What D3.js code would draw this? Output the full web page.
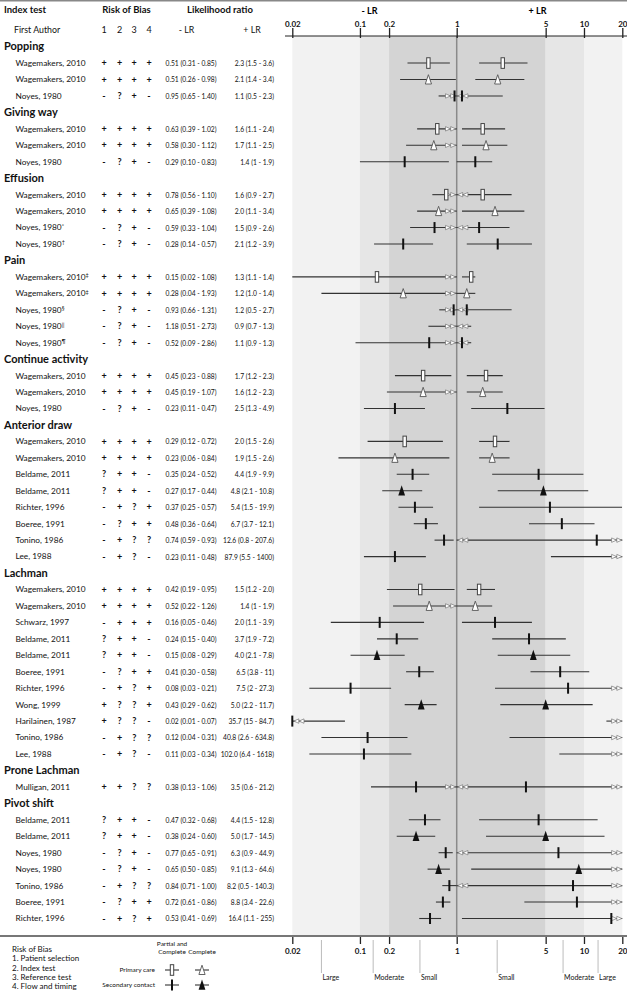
<!DOCTYPE html>
<html><head><meta charset="utf-8">
<script src="https://cdn.jsdelivr.net/npm/d3@7"></script>
<style>
body{margin:0;background:#fff;}
svg{display:block;font-family:Lato,"Open Sans",sans-serif;}
</style></head><body>
<svg id="c" width="627" height="993"></svg>
<script>
// ---------------- DATA ----------------
const groups = ["Popping","Giving way","Effusion","Pain","Continue activity","Anterior draw","Lachman","Prone Lachman","Pivot shift"];
const groupSizes = [3,3,4,5,3,8,11,1,7];
const studies = [
 "Wagemakers, 2010","Wagemakers, 2010","Noyes, 1980",
 "Wagemakers, 2010","Wagemakers, 2010","Noyes, 1980",
 "Wagemakers, 2010","Wagemakers, 2010","Noyes, 1980","Noyes, 1980",
 "Wagemakers, 2010","Wagemakers, 2010","Noyes, 1980","Noyes, 1980","Noyes, 1980",
 "Wagemakers, 2010","Wagemakers, 2010","Noyes, 1980",
 "Wagemakers, 2010","Wagemakers, 2010","Beldame, 2011","Beldame, 2011","Richter, 1996","Boeree, 1991","Tonino, 1986","Lee, 1988",
 "Wagemakers, 2010","Wagemakers, 2010","Schwarz, 1997","Beldame, 2011","Beldame, 2011","Boeree, 1991","Richter, 1996","Wong, 1999","Harilainen, 1987","Tonino, 1986","Lee, 1988",
 "Mulligan, 2011",
 "Beldame, 2011","Beldame, 2011","Noyes, 1980","Noyes, 1980","Tonino, 1986","Boeree, 1991","Richter, 1996"];
const footnotes = ["","","", "","","", "","","*","\u2020", "\u2021","\u2021","\u00a7","||","\u00b6", "","","",
 "","","","","","","","", "","","","","","","","","","","", "", "","","","","","",""];
const riskOfBias = [
 "++++","++++","-?+-", "++++","++++","-?+-", "++++","++++","-?+-","-?+-",
 "++++","++++","-?+-","-?+-","-?+-", "++++","++++","-?+-",
 "++++","++++","?++-","?++-","-+?+","-?++","-+??","-+?-",
 "++++","++++","-+++","?++-","?++-","-?++","-+?+","+??+","+??-","-+??","-+?-",
 "++??",
 "?++-","?++-","-?+-","-?+-","-+??","-?++","-+?+"];
// marker: rect = primary care partial&complete, otri = primary care complete,
// tick = secondary contact partial&complete, ftri = secondary contact complete
const markers = [
 "rect","otri","tick", "rect","otri","tick", "rect","otri","tick","tick",
 "rect","otri","tick","tick","tick", "rect","otri","tick",
 "rect","otri","tick","ftri","tick","tick","tick","tick",
 "rect","otri","tick","tick","ftri","tick","tick","ftri","tick","tick","tick",
 "tick",
 "tick","ftri","tick","ftri","tick","tick","tick"];
const negativeLR = [
 ["0.51","0.31","0.85"],["0.51","0.26","0.98"],["0.95","0.65","1.40"],
 ["0.63","0.39","1.02"],["0.58","0.30","1.12"],["0.29","0.10","0.83"],
 ["0.78","0.56","1.10"],["0.65","0.39","1.08"],["0.59","0.33","1.04"],["0.28","0.14","0.57"],
 ["0.15","0.02","1.08"],["0.28","0.04","1.93"],["0.93","0.66","1.31"],["1.18","0.51","2.73"],["0.52","0.09","2.86"],
 ["0.45","0.23","0.88"],["0.45","0.19","1.07"],["0.23","0.11","0.47"],
 ["0.29","0.12","0.72"],["0.23","0.06","0.84"],["0.35","0.24","0.52"],["0.27","0.17","0.44"],["0.37","0.25","0.57"],["0.48","0.36","0.64"],["0.74","0.59","0.93"],["0.23","0.11","0.48"],
 ["0.42","0.19","0.95"],["0.52","0.22","1.26"],["0.16","0.05","0.46"],["0.24","0.15","0.40"],["0.15","0.08","0.29"],["0.41","0.30","0.58"],["0.08","0.03","0.21"],["0.43","0.29","0.62"],["0.02","0.01","0.07"],["0.12","0.04","0.31"],["0.11","0.03","0.34"],
 ["0.38","0.13","1.06"],
 ["0.47","0.32","0.68"],["0.38","0.24","0.60"],["0.77","0.65","0.91"],["0.65","0.50","0.85"],["0.84","0.71","1.00"],["0.72","0.61","0.86"],["0.53","0.41","0.69"]];
const positiveLR = [
 ["2.3","1.5","3.6"],["2.1","1.4","3.4"],["1.1","0.5","2.3"],
 ["1.6","1.1","2.4"],["1.7","1.1","2.5"],["1.4","1","1.9"],
 ["1.6","0.9","2.7"],["2.0","1.1","3.4"],["1.5","0.9","2.6"],["2.1","1.2","3.9"],
 ["1.3","1.1","1.4"],["1.2","1.0","1.4"],["1.2","0.5","2.7"],["0.9","0.7","1.3"],["1.1","0.9","1.3"],
 ["1.7","1.2","2.3"],["1.6","1.2","2.3"],["2.5","1.3","4.9"],
 ["2.0","1.5","2.6"],["1.9","1.5","2.6"],["4.4","1.9","9.9"],["4.8","2.1","10.8"],["5.4","1.5","19.9"],["6.7","3.7","12.1"],["12.6","0.8","207.6"],["87.9","5.5","1400"],
 ["1.5","1.2","2.0"],["1.4","1","1.9"],["2.0","1.1","3.9"],["3.7","1.9","7.2"],["4.0","2.1","7.8"],["6.5","3.8","11"],["7.5","2","27.3"],["5.0","2.2","11.7"],["35.7","15","84.7"],["40.8","2.6","634.8"],["102.0","6.4","1618"],
 ["3.5","0.6","21.2"],
 ["4.4","1.5","12.8"],["5.0","1.7","14.5"],["6.3","0.9","44.9"],["9.1","1.3","64.6"],["8.2","0.5","140.3"],["8.8","3.4","22.6"],["16.4","1.1","255"]];
const negTicks = [0.02,0.1,0.2,1];
const posTicks = [5,10,20];
const negBands = [[0.02,0.1,"#f2f2f2"],[0.1,0.2,"#e6e6e6"],[0.2,1,"#d4d4d4"]];
const posBands = [[1,5,"#d4d4d4"],[5,10,"#e6e6e6"],[10,20,"#f2f2f2"]];
const negEffect = [[0.04,"Large"],[0.137,"Moderate"],[0.417,"Small"]];
const posEffect = [[2.08,"Small"],[6.85,"Moderate"],[12.9,"Large"]];
const robLegend = ["Risk of Bias","1. Patient selection","2. Index test","3. Reference test","4. Flow and timing"];

// ---------------- LAYOUT ----------------
const svg = d3.select("#c");
const xNeg = d3.scaleLog().domain([0.02,1]).range([292.3,456.7]);
const xPos = d3.scaleLog().domain([1,20]).range([456.7,622.3]);
const X1 = xNeg(1);
const yTop = 36, yBot = 936;

const rows = [];
let k = 0;
groups.forEach((g,gi)=>{
  rows.push({kind:"g",name:g});
  for(let j=0;j<groupSizes[gi];j++) rows.push({kind:"s",i:k++});
});
const y = d3.scaleLinear().domain([0,rows.length-1]).range([46.6,918.5]);

// background bands
negBands.forEach(b=>svg.append("rect").attr("x",xNeg(b[0])).attr("width",xNeg(b[1])-xNeg(b[0]))
  .attr("y",yTop).attr("height",yBot-yTop).attr("fill",b[2]));
posBands.forEach(b=>svg.append("rect").attr("x",xPos(b[0])).attr("width",xPos(b[1])-xPos(b[0]))
  .attr("y",yTop).attr("height",yBot-yTop).attr("fill",b[2]));

// top rule
svg.append("line").attr("x1",0).attr("x2",627).attr("y1",0.75).attr("y2",0.75).attr("stroke","#888").attr("stroke-width",1.5);

// reference line at 1
svg.append("line").attr("x1",X1).attr("x2",X1).attr("y1",yTop).attr("y2",yBot).attr("stroke","#8a8a8a").attr("stroke-width",1.5);

// axes
function styleAxis(g){
  g.select(".domain").remove();
  g.selectAll(".tick line").attr("stroke","#222").attr("stroke-width",1.3);
  g.selectAll(".tick text").attr("fill","#111").attr("font-size",8).attr("font-weight","bold").attr("font-family","Lato,sans-serif");
}
const fmt = d=>String(d);
const gTopN = svg.append("g").attr("transform",`translate(0,${yTop})`).call(d3.axisTop(xNeg).tickValues(negTicks).tickFormat(fmt).tickSizeInner(8).tickSizeOuter(0).tickPadding(1));
const gTopP = svg.append("g").attr("transform",`translate(0,${yTop})`).call(d3.axisTop(xPos).tickValues(posTicks).tickFormat(fmt).tickSizeInner(8).tickSizeOuter(0).tickPadding(1));
[gTopN,gTopP].forEach(g=>{styleAxis(g);g.selectAll(".tick line").attr("y2",-8).attr("y1",2);});
svg.append("line").attr("x1",285).attr("x2",627).attr("y1",yTop).attr("y2",yTop).attr("stroke","#222").attr("stroke-width",1);

const gBotN = svg.append("g").attr("transform",`translate(0,${yBot})`).call(d3.axisBottom(xNeg).tickValues(negTicks).tickFormat(fmt).tickSizeInner(8).tickSizeOuter(0).tickPadding(4));
const gBotP = svg.append("g").attr("transform",`translate(0,${yBot})`).call(d3.axisBottom(xPos).tickValues(posTicks).tickFormat(fmt).tickSizeInner(8).tickSizeOuter(0).tickPadding(4));
[gBotN,gBotP].forEach(g=>styleAxis(g));
svg.append("line").attr("x1",0).attr("x2",627).attr("y1",yBot).attr("y2",yBot).attr("stroke","#777").attr("stroke-width",2);

// LR titles
svg.append("text").attr("x",(xNeg(0.02)+X1)/2-5).attr("y",11).attr("dy","0.35em").attr("text-anchor","middle").attr("font-size",9).attr("font-weight","bold").text("- LR");
svg.append("text").attr("x",(X1+xPos(20))/2-2).attr("y",11).attr("dy","0.35em").attr("text-anchor","middle").attr("font-size",9).attr("font-weight","bold").text("+ LR");

// effect size labels
function effect(list, sc){
  list.forEach(e=>{
    const xx = sc(e[0]);
    svg.append("line").attr("x1",xx).attr("x2",xx).attr("y1",940).attr("y2",973).attr("stroke","#aaa").attr("stroke-width",0.8);
    svg.append("text").attr("x",xx+1).attr("y",978).attr("dy","0.35em").attr("font-size",7).attr("fill","#111").text(e[1]);
  });
}
effect(negEffect,xNeg); effect(posEffect,xPos);

// header text
const hdr = (t,x,yy,opt={})=>svg.append("text").attr("x",x).attr("y",yy).attr("dy","0.35em")
  .attr("text-anchor",opt.anchor||"start").attr("font-size",opt.size||9).attr("font-weight",opt.bold?"bold":"normal").attr("fill","#111").text(t);
const robX = [104,119.5,134.2,149];
hdr("Index test",4,10,{bold:true,size:9.5});
hdr("Risk of Bias",126.5,10,{bold:true,size:9.5,anchor:"middle"});
hdr("Likelihood ratio",220,10,{bold:true,size:9.5,anchor:"middle"});
hdr("First Author",14,30,{size:8.8});
robX.forEach((xx,i)=>hdr(String(i+1),xx,30,{size:9,anchor:"middle"}));
hdr("- LR",186.5,30,{size:8.8,anchor:"middle"});
hdr("+ LR",252,30,{size:8.8,anchor:"middle"});

// condensed numeric text (horizontal squeeze)
function numText(str, x, yy, anchor){
  svg.append("text").attr("transform",`translate(${x},${yy}) scale(0.8,1)`).attr("dy","0.35em")
    .attr("text-anchor",anchor).attr("font-size",8.4).attr("fill","#111").text(str);
}

// markers
function marker(g, type, xx, yy){
  if(type==="rect") g.append("rect").attr("x",xx-1.7).attr("y",yy-5.3).attr("width",3.4).attr("height",10.6).attr("fill","#fff").attr("stroke","#444").attr("stroke-width",1);
  else if(type==="tick") g.append("rect").attr("x",xx-1).attr("y",yy-5.5).attr("width",2).attr("height",11).attr("fill","#111");
  else if(type==="otri") g.append("path").attr("d",`M${xx},${yy-4.8}L${xx+3.1},${yy+4.5}L${xx-3.1},${yy+4.5}Z`).attr("fill","#fff").attr("stroke","#555").attr("stroke-width",0.9);
  else if(type==="ftri") g.append("path").attr("d",`M${xx},${yy-5.5}L${xx+3.4},${yy+4.8}L${xx-3.4},${yy+4.8}Z`).attr("fill","#111");
}
function arrows(g, tip, dir, yy){
  for(let a=0;a<2;a++){
    const t = tip - dir*a*5.2;
    g.append("path").attr("d",`M${t},${yy}L${t-dir*5},${yy-2.2}L${t-dir*5},${yy+2.2}Z`)
      .attr("fill","#fff").attr("stroke","#777").attr("stroke-width",0.7);
  }
}

const gm = svg.append("g");
rows.forEach((r,ri)=>{
  const yy = y(ri);
  if(r.kind==="g"){
    hdr(r.name,4,yy,{bold:true,size:11});
    return;
  }
  const i = r.i;
  const t = svg.append("text").attr("x",15.5).attr("y",yy).attr("dy","0.35em").attr("font-size",8.3).attr("fill","#111").text(studies[i]);
  if(footnotes[i]) t.append("tspan").attr("dy","-0.45em").attr("font-size",5.5).text(footnotes[i]);
  riskOfBias[i].split("").forEach((c,ci)=>{
    svg.append("text").attr("x",robX[ci]).attr("y",yy).attr("dy","0.35em").attr("text-anchor","middle")
      .attr("font-size",9).attr("font-weight","bold").attr("fill","#111").text(c);
  });
  const n = negativeLR[i], p = positiveLR[i];
  numText(`${n[0]} (${n[1]} - ${n[2]})`, 165.5, yy, "start");
  numText(`${p[0]} (${p[1]} - ${p[2]})`, 274, yy, "end");

  // -LR interval
  const ne=+n[0], nl=+n[1], nh=+n[2];
  const lx0 = xNeg(Math.max(nl,0.02)), lx1 = xNeg(Math.min(nh,1));
  gm.append("line").attr("x1",lx0).attr("x2",lx1).attr("y1",yy).attr("y2",yy).attr("stroke","#333").attr("stroke-width",1.1);
  if(nh>1) arrows(gm, X1-1, 1, yy);
  if(nl<0.02) arrows(gm, xNeg(0.02)+1.5, -1, yy);
  if(ne<=1) marker(gm, markers[i], xNeg(Math.max(ne,0.02)), yy);

  // +LR interval
  const pe=+p[0], pl=+p[1], ph=+p[2];
  const rx0 = xPos(Math.max(pl,1)), rx1 = xPos(Math.min(ph,20));
  gm.append("line").attr("x1",rx0).attr("x2",rx1).attr("y1",yy).attr("y2",yy).attr("stroke","#333").attr("stroke-width",1.1);
  if(pl<1) arrows(gm, X1+1, -1, yy);
  if(ph>20) arrows(gm, xPos(20)-0.5, 1, yy);
  if(pe>=1 && pe<=20) marker(gm, markers[i], xPos(pe), yy);
});

// legend
robLegend.forEach((t,i)=>hdr(t,12,949+i*9.4,{size:8}));
hdr("Partial and",172,944,{size:6.5,anchor:"middle"});
hdr("Complete",172,952,{size:6.5,anchor:"middle"});
hdr("Complete",202,952,{size:6.5,anchor:"middle"});
hdr("Primary care",155,970,{size:6.5,anchor:"end"});
hdr("Secondary contact",155,985,{size:6.5,anchor:"end"});
[["rect",172,970],["otri",202,970],["tick",172,985],["ftri",202,985]].forEach(m=>{
  svg.append("line").attr("x1",m[1]-7).attr("x2",m[1]+7).attr("y1",m[2]).attr("y2",m[2]).attr("stroke","#333").attr("stroke-width",1.1);
  marker(svg,m[0],m[1],m[2]);
});
</script>
</body></html>
